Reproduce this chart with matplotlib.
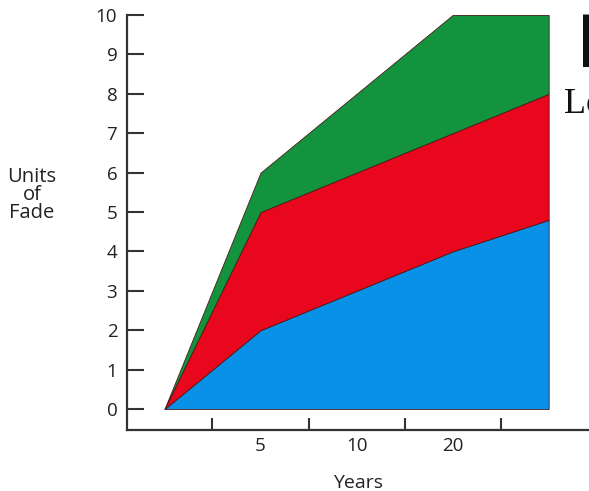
import matplotlib
matplotlib.use("Agg")
import matplotlib.pyplot as plt
import numpy as np

plt.rcParams['font.family'] = ['Open Sans', 'DejaVu Sans']

x_pos = [0, 1, 2, 3, 4]
blue_vals = [0, 2, 3, 4, 4.8]
red_vals = [0, 3, 3, 3, 3.2]
green_vals = [0, 1, 2, 3, 2]
x_tick_pos = [1, 2, 3]
x_tick_labels = ["5", "10", "20"]
x_minor_pos = [0.5, 1.5, 2.5, 3.5]
y_ticks = list(range(0, 11))

W, H = 589, 491
fig = plt.figure(figsize=(W / 100, H / 100), dpi=100)
ax = fig.add_axes([127 / W, 1 - 430 / H, 1 - 127 / W, (430 - 15) / H])
ax.set_xlim(-0.39, 4.42)
ax.set_ylim(-0.533, 10)

ax.stackplot(x_pos, blue_vals, red_vals, green_vals,
             colors=['#0891e6', '#e8071c', '#14933e'],
             edgecolor='#4a1a1a', linewidth=0.6)

for s in ['top', 'right']:
    ax.spines[s].set_visible(False)
for s in ['left', 'bottom']:
    ax.spines[s].set_linewidth(1.6)
    ax.spines[s].set_color('#333333')
ax.spines['left'].set_bounds(-0.533, 10)

ax.set_yticks(y_ticks)
ax.set_yticklabels([str(v) for v in y_ticks], fontsize=13.5, color='#222222')
ax.tick_params(axis='y', direction='in', length=12, width=1.5, color='#333333', pad=7)

ax.set_xticks(x_tick_pos)
ax.set_xticklabels(x_tick_labels, fontsize=13.5, color='#222222')
ax.tick_params(axis='x', which='major', length=0, pad=5)
ax.set_xticks(x_minor_pos, minor=True)
ax.tick_params(axis='x', which='minor', direction='in', length=9, width=1.5, color='#333333')

fig.text(358 / W, 1 - 483 / H, "Years", ha='center', va='center', fontsize=14, color='#222222')
fig.text(32 / W, 1 - 195 / H, "Units\nof\nFade", ha='center', va='center', fontsize=14.5,
         color='#222222', linespacing=0.85)

fig.text(564 / W, 1 - 113 / H, "Lo", ha='left', va='baseline', fontsize=26,
         family='Liberation Serif', color='#111111')
fig.text(576 / W, 1 - 67 / H, "I", ha='left', va='baseline', fontsize=55,
         family='Liberation Sans', color='#111111')

fig.savefig("out.png", dpi=100)
